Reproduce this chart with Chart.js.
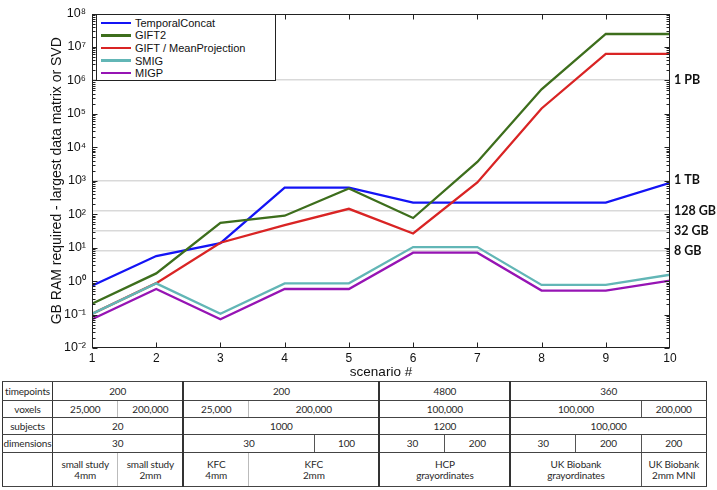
<!DOCTYPE html>
<html><head><meta charset="utf-8">
<script src="https://cdn.jsdelivr.net/npm/chart.js@4.4.0/dist/chart.umd.min.js"></script>
<style>
html,body{margin:0;padding:0;background:#fff;}
body{width:717px;height:490px;position:relative;overflow:hidden;font-family:"Liberation Sans",Arial,sans-serif;}
#wrap{position:absolute;left:0;top:0;width:717px;height:380px;}
#legend{position:absolute;left:96px;top:14px;width:180px;height:67px;border:1px solid #222;background:#fff;box-sizing:border-box;padding-top:1.5px;}
.li{height:12.6px;display:flex;align-items:center;font-size:11px;color:#111;white-space:nowrap;}
.sw{width:30px;height:2.3px;margin-left:4px;margin-right:4px;flex:none;}
#tbl{position:absolute;left:2px;top:381px;border-collapse:collapse;table-layout:fixed;width:704px;font-family:Lato,"Open Sans",sans-serif;font-size:10px;letter-spacing:-0.15px;color:#2a2a2a;border:1.3px solid #333;}
#tbl td{padding:0;text-align:center;vertical-align:middle;border-top:1px solid #444;border-bottom:1px solid #444;line-height:11px;white-space:pre-line;overflow:hidden;}
</style>
</head><body>
<div id="wrap"><canvas id="c" width="717" height="380"></canvas></div>
<div id="legend"></div>
<table id="tbl"></table>
<script>
// ---- data ----
const scenarios = [1,2,3,4,5,6,7,8,9,10];
const temporalConcat = [0.73, 5.6, 13.7, 620, 620, 223, 223, 223, 223, 870];
const gift2          = [0.21, 1.7, 55, 90, 590, 77, 3650, 5.4e5, 2.44e7, 2.44e7];
const giftMeanProj   = [0.105, 0.87, 14, 47, 145, 26.5, 890, 1.45e5, 6.25e6, 6.25e6];
const smig           = [0.105, 0.855, 0.105, 0.855, 0.855, 10.4, 10.4, 0.77, 0.77, 1.55];
const migp           = [0.072, 0.58, 0.072, 0.58, 0.58, 7.06, 7.06, 0.52, 0.52, 1.03];
const seriesNames  = ['TemporalConcat','GIFT2','GIFT / MeanProjection','SMIG','MIGP'];
const seriesColors = ['#1414f5','#3d6e1c','#d92424','#62b6b6','#9614b4'];
const yTickExponents = [-2,-1,0,1,2,3,4,5,6,7,8];
const memoryMarkValues = [8, 32, 128, 1024, 1048576];
const memoryMarkLabels = ['8 GB','32 GB','128 GB','1 TB','1 PB'];

// table data: [text, column span]
const tableRowLabels = ['timepoints','voxels','subjects','dimensions',''];
const timepointsCells = [['200',2],['200',3],['4800',2],['360',3]];
const voxelsCells     = [['25,000',1],['200,000',1],['25,000',1],['200,000',2],['100,000',2],['100,000',2],['200,000',1]];
const subjectsCells   = [['20',2],['1000',3],['1200',2],['100,000',3]];
const dimensionsCells = [['30',2],['30',2],['100',1],['30',1],['200',1],['30',1],['200',1],['200',1]];
const studyCells      = [['small study\n4mm',1],['small study\n2mm',1],['KFC\n4mm',1],['KFC\n2mm',2],['HCP\ngrayordinates',2],['UK Biobank\ngrayordinates',2],['UK Biobank\n2mm MNI',1]];

// ---- chart ----
const allSeries = [temporalConcat, gift2, giftMeanProj, smig, migp];
const supMap = {'-':'\u207B','0':'\u2070','1':'\u00B9','2':'\u00B2','3':'\u00B3','4':'\u2074','5':'\u2075','6':'\u2076','7':'\u2077','8':'\u2078','9':'\u2079'};
const sup = s => String(s).split('').map(ch => supMap[ch] || ch).join('');

const frame = {
  id:'frame',
  afterDraw(chart){
    const {ctx, chartArea:a, scales} = chart;
    const x = scales.x, y = scales.y;
    const L = Math.round(a.left)+0.5, R = Math.round(a.right)-0.5, T = Math.round(a.top)+0.5, B = Math.round(a.bottom)-0.5;
    ctx.save();
    ctx.strokeStyle = '#222'; ctx.lineWidth = 1;
    ctx.beginPath();
    scenarios.forEach(s => {
      if (s === scenarios[0] || s === scenarios[scenarios.length-1]) return;
      const px = Math.round(x.getPixelForValue(s)) + 0.5;
      ctx.moveTo(px, B); ctx.lineTo(px, B-5);
      ctx.moveTo(px, T); ctx.lineTo(px, T+5);
    });
    for (let e = yTickExponents[0]; e < yTickExponents[yTickExponents.length-1]; e++) {
      for (let m = 1; m <= 9; m++) {
        const py = Math.round(y.getPixelForValue(m*Math.pow(10,e))) + 0.5;
        const len = m === 1 ? 5 : 3;
        ctx.moveTo(L, py); ctx.lineTo(L+len, py);
        ctx.moveTo(R, py); ctx.lineTo(R-len, py);
      }
    }
    ctx.stroke();
    ctx.strokeRect(L, T, R-L, B-T);
    ctx.restore();
  }
};

const datasets = allSeries.map((vals, i) => ({
  label: seriesNames[i],
  data: scenarios.map((s, j) => ({x:s, y:vals[j]})),
  borderColor: seriesColors[i],
  backgroundColor: seriesColors[i],
  borderWidth: 2.3,
  pointRadius: 0,
  tension: 0,
  fill: false,
  order: allSeries.length - i
}));

new Chart(document.getElementById('c').getContext('2d'), {
  type:'line',
  data:{datasets},
  options:{
    responsive:false, animation:false, devicePixelRatio:1,
    layout:{padding:{top:10,left:0,right:0,bottom:0}},
    plugins:{legend:{display:false}, tooltip:{enabled:false}},
    scales:{
      x:{type:'linear', min:1, max:10, position:'bottom',
         grid:{display:false, drawTicks:false}, border:{display:false},
         ticks:{stepSize:1, autoSkip:false, maxRotation:0, padding:3, color:'#111', font:{size:12, family:'"Liberation Sans", Arial'}},
         title:{display:true, text:'scenario #', color:'#111', font:{size:13.5, family:'"Liberation Sans", Arial'}, padding:{top:0,bottom:0}},
         afterFit(s){ s.height = 32; }},
      y:{type:'logarithmic', min:0.01, max:1e8, position:'left',
         grid:{display:false, drawTicks:false}, border:{display:false},
         afterBuildTicks(s){ s.ticks = yTickExponents.map(e => ({value: Math.pow(10,e)})); },
         ticks:{autoSkip:false, padding:6, color:'#111', font:{size:12.5, family:'"Liberation Sans", Arial'},
                callback:(v) => '10' + sup(Math.round(Math.log10(v)))},
         title:{display:true, text:'GB RAM required - largest data matrix or SVD', color:'#111', font:{size:14, family:'"Liberation Sans", Arial'}, padding:{top:48.6,bottom:0}},
         afterFit(s){ s.width = 92; }},
      y2:{type:'logarithmic', min:0.01, max:1e8, position:'right',
         grid:{display:true, drawOnChartArea:true, drawTicks:false, color:'#d9d9d9', lineWidth:1.5}, border:{display:false},
         afterBuildTicks(s){ s.ticks = memoryMarkValues.map(v => ({value:v})); },
         ticks:{autoSkip:false, padding:4, color:'#111', font:{size:12.5, weight:'bold', family:'Lato'},
                callback:(v) => memoryMarkLabels[memoryMarkValues.indexOf(v)]},
         afterFit(s){ s.width = 47; }}
    }
  },
  plugins:[frame]
});

// ---- legend (HTML) ----
const lg = document.getElementById('legend');
seriesNames.forEach((n, i) => {
  const row = document.createElement('div'); row.className = 'li';
  const sw = document.createElement('span'); sw.className = 'sw'; sw.style.background = seriesColors[i];
  const tx = document.createElement('span'); tx.textContent = n;
  row.appendChild(sw); row.appendChild(tx); lg.appendChild(row);
});

// ---- table ----
const tbl = document.getElementById('tbl');
const cg = document.createElement('colgroup');
const c0 = document.createElement('col'); c0.style.width = '50px'; cg.appendChild(c0);
scenarios.forEach(() => { const c = document.createElement('col'); c.style.width = '65.4px'; cg.appendChild(c); });
tbl.appendChild(cg);
const rowCells = [timepointsCells, voxelsCells, subjectsCells, dimensionsCells, studyCells];
const rowHeights = [19, 17, 17, 18, 34];
const borderFor = b => {
  if (b === 0) return '1.5px solid #333';
  if (b === 2 || b === 5 || b === 7) return '2px solid #333';
  if (b === 1 || b === 3) return '1px solid #bbb';
  return '1px solid #555';
};
rowCells.forEach((cells, r) => {
  const tr = document.createElement('tr'); tr.style.height = rowHeights[r] + 'px';
  const th = document.createElement('td'); th.textContent = tableRowLabels[r]; tr.appendChild(th);
  let b = 0;
  cells.forEach(([t, span]) => {
    const td = document.createElement('td'); td.textContent = t; td.colSpan = span;
    td.style.borderLeft = borderFor(b);
    tr.appendChild(td); b += span;
  });
  tbl.appendChild(tr);
});
</script>
</body></html>
